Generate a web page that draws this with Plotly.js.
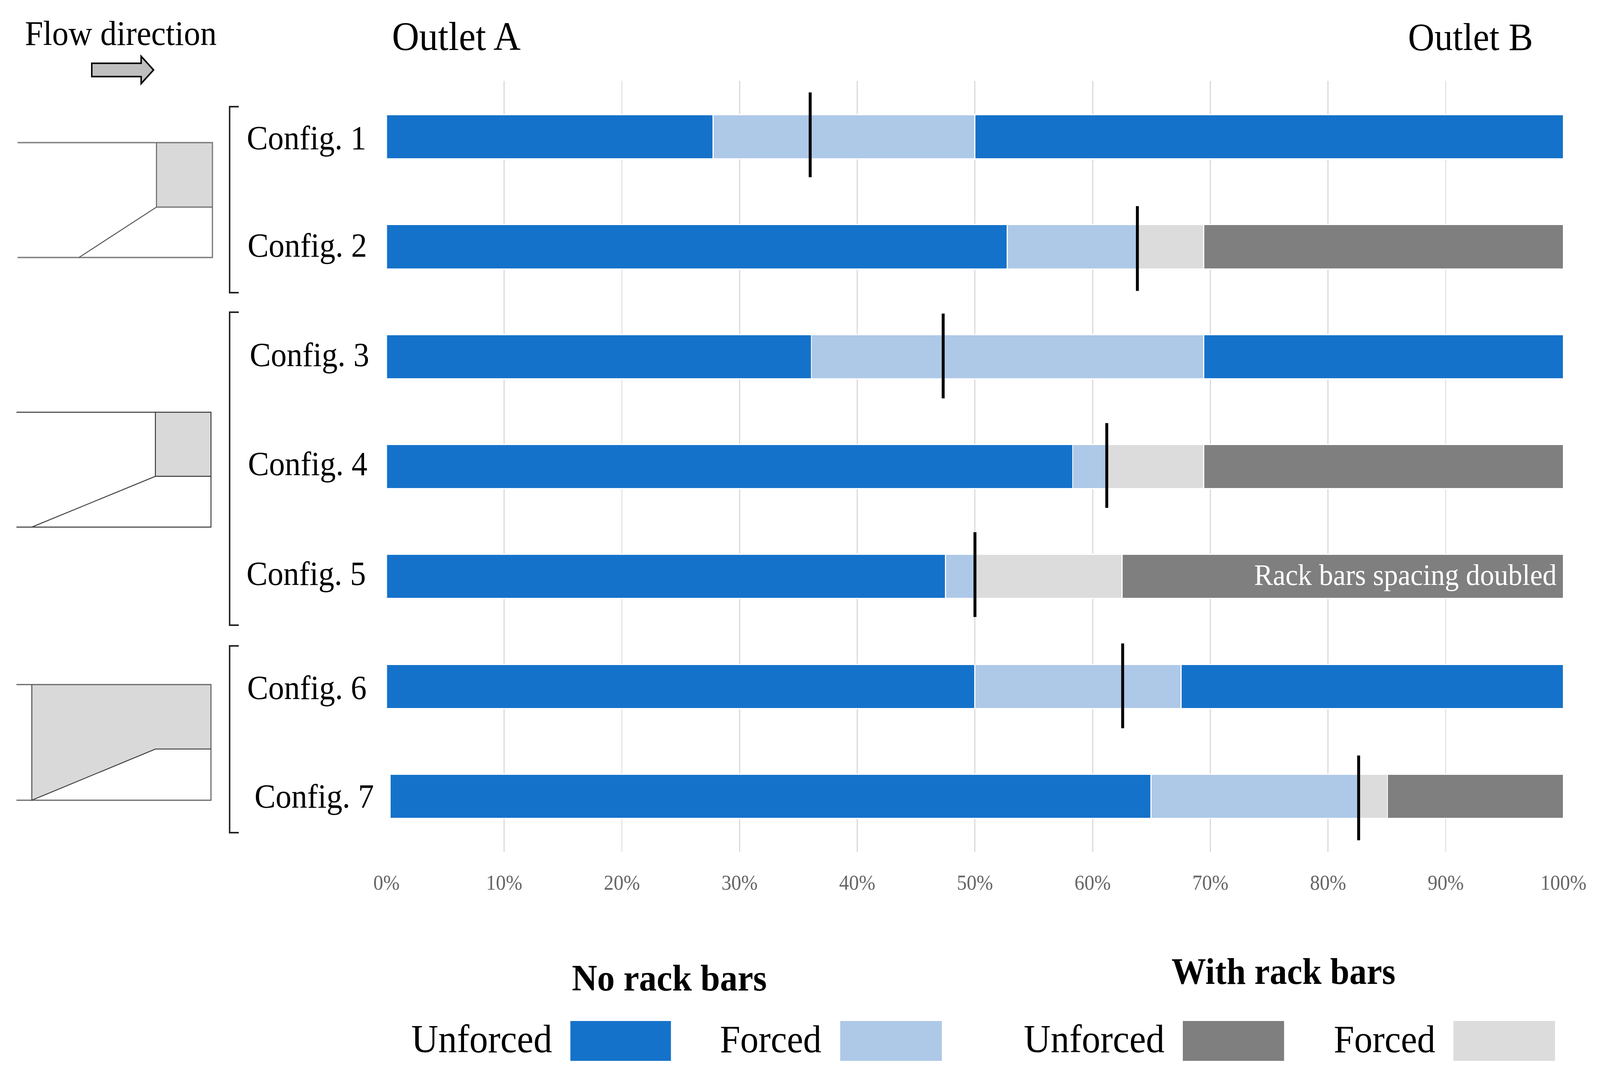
<!DOCTYPE html>
<html>
<head>
<meta charset="utf-8">
<script src="https://cdn.plot.ly/plotly-3.0.1.min.js"></script>
<style>html,body{margin:0;padding:0;background:#fff;overflow:hidden}#chart{transform-origin:0 0;width:4376px;height:2764px}</style>
</head>
<body>
<div id="chart"></div>
<script>
// ---- data ----
const rows = [0, 1, 2, 3, 4, 5, 6];
const configLabels = ["Config. 1","Config. 2","Config. 3","Config. 4","Config. 5","Config. 6","Config. 7"];
const offsetStart   = [0, 0, 0, 0, 0, 0, 0.3];
const unforcedNoBars = [27.75, 52.75, 36.1, 58.3, 47.5, 50, 64.65];
const forcedNoBars   = [22.25, 11.05, 33.33, 2.9, 2.5, 17.5, 17.65];
const forcedWithBars = [0, 5.63, 0, 8.23, 12.5, 0, 2.45];
const unforcedWithBars = [0, 30.57, 0, 30.57, 37.5, 0, 14.95];
const unforcedOutletB  = [50, 0, 30.57, 0, 0, 32.5, 0];
const stagnationX = [36.0, 63.8, 47.3, 61.2, 50.0, 62.55, 82.6];
const stagnationRow = [-0.018, 1.016, 1.994, 2.99, 3.983, 4.995, 6.014];
const tickValues = [0,10,20,30,40,50,60,70,80,90,100];
const tickLabels = ["0%","10%","20%","30%","40%","50%","60%","70%","80%","90%","100%"];

// ---- style ----
const BLUE="#1572CA", LBLUE="#AEC8E8", DGRAY="#7F7F7F", LGRAY="#DCDCDC", FILL="#D9D9D9";
const SERIF="Liberation Serif, Times New Roman, serif";
const W=4376,H=2764,L=1057,R=4276,T=207,B=2180;
const xp=x=>(x-L)/(R-L), yp=y=>1-(y-T)/(B-T);

// the window may be narrower than the requested width: squeeze the whole figure to fit it
const fit=Math.min(1,window.innerWidth/W);
document.getElementById("chart").style.transform="scaleX("+fit+")";

function barTrace(name,vals,color){
  return {type:"bar",orientation:"h",name:name,y:rows,x:vals,width:0.402,
    marker:{color:color,line:{color:"#ffffff",width:3}},hoverinfo:"x"};
}
const traces=[
  {type:"bar",orientation:"h",name:"offset",y:rows,x:offsetStart,width:0.402,
   marker:{color:"rgba(0,0,0,0)",line:{width:0}},hoverinfo:"skip"},
  barTrace("No rack bars, unforced",unforcedNoBars,BLUE),
  barTrace("No rack bars, forced",forcedNoBars,LBLUE),
  barTrace("With rack bars, forced",forcedWithBars,LGRAY),
  barTrace("With rack bars, unforced",unforcedWithBars,DGRAY),
  barTrace("No rack bars, unforced (outlet B)",unforcedOutletB,BLUE),
  {type:"scatter",mode:"markers",name:"Split",x:stagnationX,y:stagnationRow,
   marker:{symbol:"line-ns",size:155,color:"#000",line:{color:"#000",width:8}},hoverinfo:"x"}
];

// ---- shape helpers ----
function poly(pts,lineColor,lineW,fill,closed){
  const d=pts.map((p,i)=>(i?"L":"M")+xp(p[0]).toFixed(5)+" "+yp(p[1]).toFixed(5)).join(" ")+(closed?" Z":"");
  return {type:"path",xref:"paper",yref:"paper",path:d,layer:"above",
    fillcolor:fill||"rgba(0,0,0,0)",line:{color:lineColor||"rgba(0,0,0,0)",width:lineW||0}};
}
function swatch(x0,x1,y0,y1,c){return poly([[x0,y0],[x1,y0],[x1,y1],[x0,y1]],null,0,c,true);}
function bracket(y0,y1){return poly([[653,y0],[628,y0],[628,y1],[653,y1]],"#222",4);}

const shapes=[
  // white patch behind the shifted Config. 7 bar
  {type:"rect",xref:"paper",yref:"paper",layer:"between",x0:xp(1050),x1:xp(1067),y0:yp(1972),y1:yp(2113),
   fillcolor:"#fff",line:{width:0}},
  // flow arrow
  poly([[251,162],[386,162],[386,144],[420,179],[386,214],[386,196],[251,196]],"#000",4,"#BFBFBF",true),
  // brackets
  bracket(273,749),bracket(799,1600),bracket(1653,2131),
  // sketch 1
  poly([[428,365],[581,365],[581,530],[428,530]],null,0,FILL,true),
  poly([[48,365],[581,365],[581,659],[48,659]],"#7F7F7F",3.5),
  poly([[428,365],[428,530],[581,530]],"#6E6E6E",3),
  poly([[428,530],[216,659]],"#555",2.5),
  // sketch 2
  poly([[425,1055],[577,1055],[577,1219],[425,1219]],null,0,FILL,true),
  poly([[45,1055],[577,1055],[577,1349],[45,1349]],"#333",2.5),
  poly([[425,1055],[425,1219],[577,1219]],"#333",2.5),
  poly([[425,1219],[87,1349]],"#444",2.5),
  // sketch 3
  poly([[87,1752],[577,1752],[577,1917],[425,1917],[87,2048]],null,0,FILL,true),
  poly([[45,1752],[577,1752],[577,2048],[45,2048]],"#666",3),
  poly([[87,1752],[87,2048],[425,1917],[577,1917]],"#444",2.5),
  // legend swatches
  swatch(1560,1835,2613,2715,BLUE),
  swatch(2298,2576,2613,2715,LBLUE),
  swatch(3235,3512,2613,2715,DGRAY),
  swatch(3975,4253,2613,2715,LGRAY)
];

function txt(x,base,t,size,o){
  o=o||{};
  const anchor=o.anchor||"left";
  return {xref:"paper",yref:"paper",x:xp(x),y:yp(base+0.216*size),xanchor:anchor,yanchor:"bottom",
    text:o.bold?"<b>"+t+"</b>":t,showarrow:false,borderpad:0,borderwidth:0,
    font:{family:SERIF,size:size,color:o.color||"#000"}};
}
const cfgX=[675,677,683,678,674,676,696], cfgBase=[382,657,937,1216,1497,1789,2067];
const annotations=[
  txt(68,115,"Flow direction",89.5),
  txt(1072,128,"Outlet A",103),
  txt(3851,128,"Outlet B",100),
  ...configLabels.map((c,i)=>txt(cfgX[i],cfgBase[i],c,86.5)),
  txt(4258,1497,"Rack bars spacing doubled",77,{anchor:"right",color:"#fff"}),
  txt(1564,2535,"No rack bars",96,{bold:true}),
  txt(3204,2518,"With rack bars",94.5,{bold:true}),
  txt(1125,2693,"Unforced",102),
  txt(1969,2693,"Forced",100),
  txt(2800,2693,"Unforced",102),
  txt(3648,2693,"Forced",100)
];

const layout={
  width:W,height:H,paper_bgcolor:"#fff",plot_bgcolor:"#fff",showlegend:false,barmode:"stack",
  margin:{l:L,r:W-R,t:T,b:H-B,pad:0,autoexpand:false},
  xaxis:{range:[0,100],tickmode:"array",tickvals:tickValues,ticktext:tickLabels,
    tickfont:{family:SERIF,size:54,color:"#666666"},ticks:"",ticklabelstandoff:42,
    showgrid:true,gridcolor:"#DADADA",gridwidth:2.5,zeroline:false,showline:false},
  yaxis:{range:[6.505,-0.509],showgrid:false,zeroline:false,showline:false,showticklabels:false,ticks:""},
  shapes:shapes,annotations:annotations
};
Plotly.newPlot("chart",traces,layout,{displayModeBar:false,responsive:false});
</script>
</body>
</html>
